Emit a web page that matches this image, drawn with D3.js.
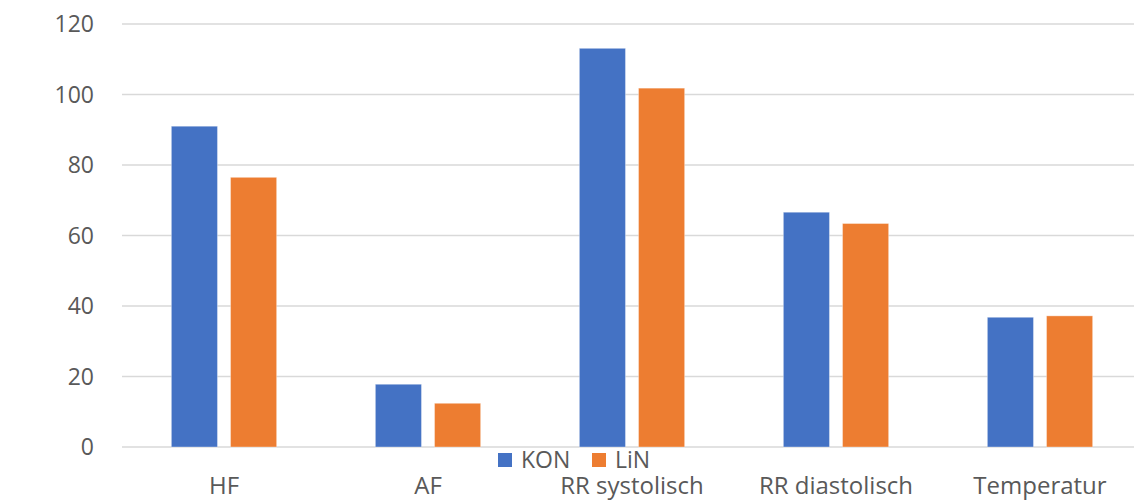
<!DOCTYPE html>
<html>
<head>
<meta charset="utf-8">
<script src="https://cdn.jsdelivr.net/npm/d3@7"></script>
<style>
  html, body { margin: 0; padding: 0; background: #fff; }
  svg { display: block; }
  text { font-family: "Open Sans", "Noto Sans", sans-serif; fill: #595959; }
</style>
</head>
<body>
<svg id="chart" width="1134" height="502"></svg>
<script>
// Vital signs per group
const categories = ["HF", "AF", "RR systolisch", "RR diastolisch", "Temperatur"];
const seriesNames = ["KON", "LiN"];
const konValues = [91.0, 17.8, 113.1, 66.6, 36.8];
const linValues = [76.5, 12.4, 101.8, 63.4, 37.2];
const yTicks = [0, 20, 40, 60, 80, 100, 120];
const colors = ["#4472C4", "#ED7D31"];

const series = [konValues, linValues];

const svg = d3.select("#chart");
const margin = { left: 122, right: -8, top: 24, bottom: 55 };
const width = 1134, height = 502;

const x = d3.scaleBand()
  .domain(categories)
  .range([margin.left, width - margin.right])
  .paddingInner(0)
  .paddingOuter(0);

const y = d3.scaleLinear()
  .domain([0, 120])
  .range([height - margin.bottom, margin.top]);

const step = x.bandwidth();
const barW = step * 0.226;
const gap = step * 0.064;

// gridlines
svg.append("g")
  .selectAll("line")
  .data(yTicks)
  .join("line")
  .attr("x1", margin.left)
  .attr("x2", width)
  .attr("y1", d => y(d))
  .attr("y2", d => y(d))
  .attr("stroke", "#d9d9d9")
  .attr("stroke-width", 1.5);

// y tick labels
svg.append("g")
  .selectAll("text")
  .data(yTicks)
  .join("text")
  .attr("x", 94)
  .attr("y", d => y(d))
  .attr("dy", "0.36em")
  .attr("text-anchor", "end")
  .style("font-size", "23px")
  .text(d => d);

// bars
const groups = svg.append("g")
  .selectAll("g")
  .data(series)
  .join("g")
  .attr("fill", (d, i) => colors[i]);

groups.each(function(vals, si) {
  d3.select(this)
    .selectAll("rect")
    .data(vals)
    .join("rect")
    .attr("x", (d, i) => {
      const c = x(categories[i]) + step / 2;
      return si === 0 ? c - gap / 2 - barW : c + gap / 2;
    })
    .attr("y", d => y(d))
    .attr("width", barW)
    .attr("height", d => y(0) - y(d))
    .attr("stroke", "#ffffff")
    .attr("stroke-opacity", 0.35)
    .attr("stroke-width", 1);
});

// category labels
svg.append("g")
  .selectAll("text")
  .data(categories)
  .join("text")
  .attr("x", d => x(d) + step / 2)
  .attr("y", 494)
  .attr("text-anchor", "middle")
  .style("font-size", "24px")
  .text(d => d);

// legend
const legend = svg.append("g");
const legendX = [498, 592];
seriesNames.forEach((name, i) => {
  legend.append("rect")
    .attr("x", legendX[i])
    .attr("y", 453)
    .attr("width", 14)
    .attr("height", 14)
    .attr("fill", colors[i]);
  legend.append("text")
    .attr("x", legendX[i] + 23)
    .attr("y", 460)
    .attr("dy", "0.36em")
    .style("font-size", "23px")
    .text(name);
});
</script>
</body>
</html>
